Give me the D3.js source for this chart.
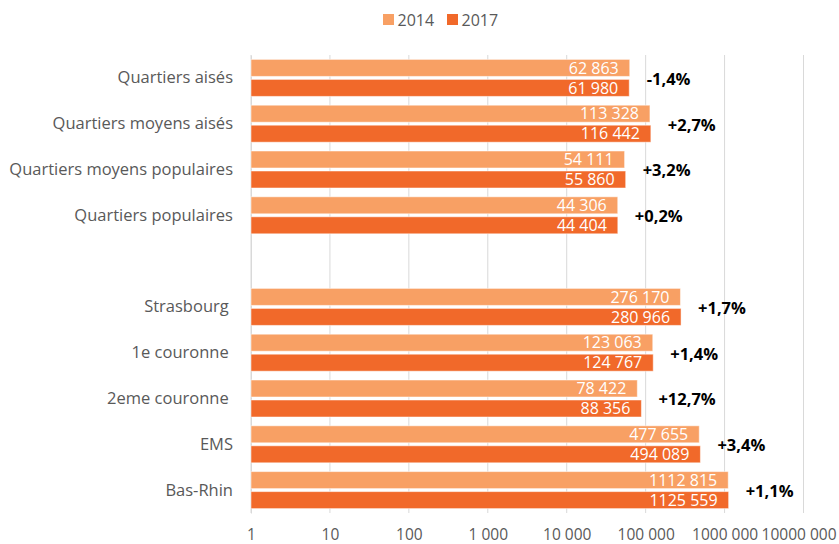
<!DOCTYPE html>
<html>
<head>
<meta charset="utf-8">
<script src="https://cdn.jsdelivr.net/npm/d3@7"></script>
<style>
  html, body { margin: 0; padding: 0; background: #fff; }
  svg { display: block; }
  text { font-family: "Open Sans", sans-serif; }
</style>
</head>
<body>
<svg id="chart" width="839" height="544"></svg>
<script>
// Population 2014 vs 2017 by district type and territory (log scale)
const categories = [
  "Quartiers aisés",
  "Quartiers moyens aisés",
  "Quartiers moyens populaires",
  "Quartiers populaires",
  "",
  "Strasbourg ",
  "1e couronne ",
  "2eme couronne ",
  "EMS",
  "Bas-Rhin"
];
const values2014 = [62863, 113328, 54111, 44306, null, 276170, 123063, 78422, 477655, 1112815];
const values2017 = [61980, 116442, 55860, 44404, null, 280966, 124767, 88356, 494089, 1125559];
const changeLabels = ["-1,4%", "+2,7%", "+3,2%", "+0,2%", null, "+1,7%", "+1,4%", "+12,7%", "+3,4%", "+1,1%"];
const seriesNames = ["2014", "2017"];
const tickValues = [1, 10, 100, 1000, 10000, 100000, 1000000, 10000000];
const tickLabels = ["1", "10", "100", "1 000", "10 000", "100 000", "1000 000", "10000 000"];

const colors = ["#F8A064", "#F1692A"];
const textGrey = "#595959";
const gridGrey = "#d9d9d9";
const W = 839;

// "# ##0" style: single space before the last three digits
const fmt = v => {
  const s = String(Math.round(v));
  return s.length > 3 ? s.slice(0, -3) + " " + s.slice(-3) : s;
};

const svg = d3.select("#chart");
const plot = { left: 251, right: 803.5, top: 55, bottom: 513 };

const x = d3.scaleLog().domain([1, 1e7]).range([plot.left, plot.right]);
const y = d3.scaleBand().domain(d3.range(categories.length)).range([plot.top, plot.bottom]).padding(0);

const barH = 17, barGap = 3;

// vertical gridlines
svg.append("g").selectAll("line")
  .data(tickValues)
  .join("line")
  .attr("x1", d => x(d)).attr("x2", d => x(d))
  .attr("y1", plot.top).attr("y2", plot.bottom)
  .attr("stroke", gridGrey).attr("stroke-width", 1);

// x axis labels
const xAxis = d3.axisBottom(x)
  .tickValues(tickValues)
  .tickFormat((d, i) => tickLabels[i])
  .tickSize(0)
  .tickPadding(0);
const gx = svg.append("g").attr("transform", `translate(0,${plot.bottom})`).call(xAxis);
gx.select(".domain").remove();
gx.selectAll("text")
  .attr("y", 27)
  .attr("dy", 0)
  .attr("fill", textGrey)
  .style("font-size", "15.5px")
  .style("font-family", "'Open Sans', sans-serif");
// keep the last tick label inside the drawing area
gx.selectAll(".tick").each(function (d) {
  const t = d3.select(this).select("text");
  const w = t.node().getComputedTextLength();
  const overflow = x(d) + w / 2 - (W - 3);
  if (overflow > 0) t.attr("x", -overflow);
});

// category labels (y axis)
const yAxis = d3.axisLeft(y)
  .tickFormat(i => categories[i])
  .tickSize(0)
  .tickPadding(18);
const gy = svg.append("g").attr("transform", `translate(${plot.left},0)`).call(yAxis);
gy.select(".domain").attr("stroke", gridGrey);
gy.selectAll("text")
  .attr("fill", textGrey)
  .attr("dy", "0.33em")
  .style("font-size", "16.5px")
  .style("font-family", "'Open Sans', sans-serif")
  .style("white-space", "pre");

// bars
const rows = categories.map((c, i) => ({ i, v: [values2014[i], values2017[i]], change: changeLabels[i] }))
  .filter(r => r.v[0] != null);

const groups = svg.append("g").selectAll("g")
  .data(rows)
  .join("g")
  .attr("transform", r => `translate(0,${y(r.i) + y.bandwidth() / 2})`);

groups.selectAll("rect")
  .data(r => r.v.map((v, k) => ({ v, k })))
  .join("rect")
  .attr("x", x(1))
  .attr("y", d => d.k === 0 ? -(barH + barGap / 2) : barGap / 2)
  .attr("width", d => x(d.v) - x(1))
  .attr("height", barH)
  .attr("fill", d => colors[d.k])
  .attr("stroke", "#fff")
  .attr("stroke-opacity", 0.5)
  .attr("stroke-width", 1);

// value labels inside bar end
groups.selectAll("text.val")
  .data(r => r.v.map((v, k) => ({ v, k })))
  .join("text")
  .attr("class", "val")
  .attr("x", d => x(d.v) - 11)
  .attr("y", d => d.k === 0 ? -(barH / 2 + barGap / 2) : barH / 2 + barGap / 2)
  .attr("dy", "0.35em")
  .attr("text-anchor", "end")
  .attr("fill", "#fff")
  .style("font-size", "16px")
  .text(d => fmt(d.v));

// change labels
groups.append("text")
  .attr("x", r => x(d3.max(r.v)) + 17)
  .attr("y", 0)
  .attr("dy", "0.42em")
  .attr("fill", "#000")
  .style("font-size", "16.5px")
  .style("font-weight", "bold")
  .text(r => r.change);

// legend
const legend = svg.append("g");
const legX = [383, 447];
seriesNames.forEach((name, k) => {
  legend.append("rect")
    .attr("x", legX[k]).attr("y", 14)
    .attr("width", 11).attr("height", 11)
    .attr("fill", colors[k]);
  legend.append("text")
    .attr("x", legX[k] + 14.5).attr("y", 25.5)
    .attr("fill", textGrey)
    .style("font-size", "16px")
    .text(name);
});
</script>
</body>
</html>
